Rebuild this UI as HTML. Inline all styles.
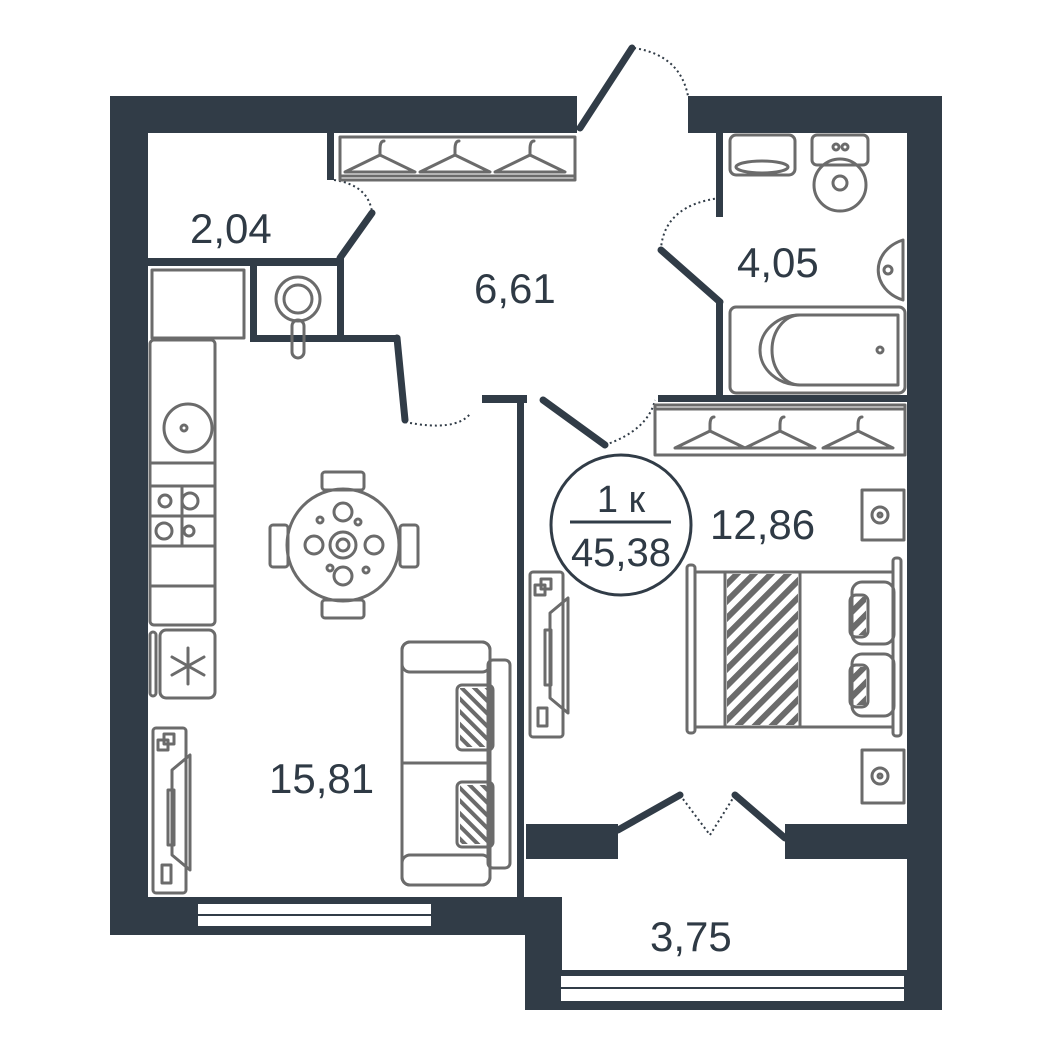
<!DOCTYPE html>
<html><head><meta charset="utf-8"><style>
html,body{margin:0;padding:0;background:#fff;}
svg{display:block}
text{font-family:"Liberation Sans",sans-serif;fill:#2f3a45;}
</style></head><body>
<svg width="1053" height="1053" viewBox="0 0 1053 1053" xmlns="http://www.w3.org/2000/svg">
<g fill="#313c47">
<rect x="110" y="96" width="467" height="37"/>
<rect x="688" y="96" width="254" height="37"/>
<rect x="110" y="96" width="38" height="839"/>
<rect x="907" y="96" width="35" height="914"/>
<rect x="110" y="897" width="450" height="38"/>
<rect x="525" y="897" width="37" height="113"/>
<rect x="525" y="970" width="417" height="40"/>
<rect x="526" y="824" width="92" height="35"/>
<rect x="785" y="824" width="127" height="35"/>
<rect x="517" y="397" width="7" height="500"/>
<rect x="482" y="395" width="45" height="8"/>
<rect x="327" y="133" width="7" height="47"/>
<rect x="148" y="258" width="192" height="8"/>
<rect x="250" y="258" width="7" height="84"/>
<rect x="337" y="258" width="7" height="84"/>
<rect x="250" y="335" width="147" height="7"/>
<rect x="716" y="133" width="7" height="84"/>
<rect x="716" y="300" width="7" height="100"/>
<rect x="658" y="395" width="252" height="7"/>
</g>
<g fill="#fff" stroke="#313c47" stroke-width="2">
<rect x="197" y="903" width="235" height="12"/><rect x="197" y="915" width="235" height="12"/>
<rect x="560" y="975" width="345" height="13"/><rect x="560" y="988" width="345" height="14"/>
</g>
<g stroke="#313c47" stroke-width="7" stroke-linecap="round" fill="none">
<line x1="580" y1="128" x2="632" y2="48"/>
<line x1="340" y1="258" x2="372" y2="213"/>
<line x1="397" y1="338" x2="405" y2="420"/>
<line x1="661" y1="250" x2="720" y2="302"/>
<line x1="543" y1="400" x2="605" y2="445"/>
<line x1="618" y1="830" x2="680" y2="795"/>
<line x1="735" y1="795" x2="785" y2="838"/>
</g>
<g stroke="#313c47" stroke-width="2" stroke-dasharray="2 3" fill="none">
<path d="M634 48 Q680 55 688 96"/>
<path d="M334 180 Q368 185 372 212"/>
<path d="M405 422 Q455 432 470 414"/>
<path d="M720 198 Q665 205 661 248"/>
<path d="M605 445 Q648 430 655 400"/>
<path d="M680 795 L710 835 L735 795"/>
</g>
<g stroke="#6b6b6b" stroke-width="3" fill="none" stroke-linecap="round" stroke-linejoin="round">
<rect x="340" y="137" width="235" height="43"/>
<line x1="340" y1="176" x2="575" y2="176"/>
<g id="h"><path d="M345 172 L380 155 L415 172 Z"/><path d="M380 155 v-6 q0 -8 4 -8"/></g>
<use href="#h" x="75"/><use href="#h" x="150"/>
<rect x="655" y="405" width="250" height="50"/>
<line x1="655" y1="409" x2="905" y2="409"/>
<use href="#h" x="330" y="276"/><use href="#h" x="400" y="276"/><use href="#h" x="478" y="276"/>
<rect x="730" y="135" width="65" height="40" rx="6"/>
<ellipse cx="762" cy="167" rx="26" ry="6"/>
<rect x="812" y="135" width="56" height="30" rx="5"/>
<circle cx="836" cy="147" r="3"/><circle cx="845" cy="147" r="3"/>
<ellipse cx="840" cy="185" rx="26" ry="26"/>
<circle cx="840" cy="183" r="7"/>
<path d="M903 240 A38 32 0 0 0 903 300 Z"/>
<circle cx="888" cy="270" r="4"/>
<rect x="730" y="307" width="175" height="86" rx="6"/>
<path d="M800 315 H898 V385 H800 A40 35 0 0 1 800 315 Z"/>
<path d="M800 315 A28 35 0 0 0 800 385"/>
<circle cx="880" cy="350" r="3"/>
<rect x="152" y="270" width="92" height="68"/>
<rect x="150" y="340" width="65" height="285" rx="4"/>
<circle cx="188" cy="428" r="24"/><circle cx="184" cy="428" r="3"/>
<line x1="150" y1="463" x2="215" y2="463"/>
<line x1="150" y1="586" x2="215" y2="586"/>
<rect x="150" y="486" width="65" height="60"/>
<line x1="182" y1="486" x2="182" y2="546"/><line x1="150" y1="516" x2="215" y2="516"/>
<circle cx="165" cy="501" r="6"/><circle cx="190" cy="501" r="8"/>
<circle cx="164" cy="531" r="8"/><circle cx="189" cy="531" r="5"/>
<rect x="160" y="630" width="55" height="68" rx="6"/>
<rect x="150" y="632" width="6" height="64" rx="3"/>
<path d="M188 648 v36 M172 657 l32 18 M172 675 l32 -18"/>
<circle cx="298" cy="299" r="22"/><circle cx="298" cy="299" r="14"/>
<rect x="292" y="320" width="12" height="38" rx="6"/>
<circle cx="343" cy="545" r="56"/>
<rect x="322" y="472" width="42" height="18" rx="3"/>
<rect x="322" y="600" width="42" height="18" rx="3"/>
<rect x="270" y="525" width="18" height="42" rx="3"/>
<rect x="400" y="525" width="18" height="42" rx="3"/>
<circle cx="343" cy="545" r="13"/><circle cx="343" cy="545" r="6"/>
<circle cx="343" cy="512" r="9"/><circle cx="343" cy="576" r="9"/>
<circle cx="314" cy="545" r="9"/><circle cx="374" cy="545" r="9"/>
<circle cx="320" cy="520" r="3"/><circle cx="366" cy="570" r="3"/><circle cx="330" cy="568" r="3"/><circle cx="358" cy="522" r="3"/>
<rect x="402" y="642" width="88" height="243" rx="8"/>
<rect x="402" y="642" width="88" height="30" rx="8"/>
<rect x="402" y="855" width="88" height="30" rx="8"/>
<rect x="488" y="660" width="22" height="208" rx="5"/>
<line x1="402" y1="763" x2="490" y2="763"/>
<rect x="457" y="685" width="36" height="65" rx="5"/>
<rect x="457" y="782" width="36" height="65" rx="5"/>
<rect x="153" y="728" width="33" height="165" rx="3"/>
<path d="M172 770 L190 755 V870 L172 855 Z"/>
<rect x="168" y="790" width="6" height="55"/>
<rect x="158" y="740" width="10" height="10"/><rect x="164" y="734" width="10" height="10"/>
<rect x="162" y="865" width="9" height="18"/>
<rect x="530" y="572" width="33" height="165" rx="3"/>
<path d="M550 613 L568 598 V713 L550 698 Z"/>
<rect x="545" y="630" width="6" height="55"/>
<rect x="535" y="585" width="10" height="10"/><rect x="541" y="579" width="10" height="10"/>
<rect x="538" y="708" width="9" height="18"/>
<rect x="687" y="565" width="8" height="168" rx="3"/>
<rect x="893" y="558" width="8" height="178" rx="3"/>
<rect x="695" y="572" width="198" height="155"/>
<line x1="725" y1="572" x2="725" y2="727"/><line x1="800" y1="572" x2="800" y2="727"/>
<rect x="852" y="582" width="42" height="62" rx="10"/>
<rect x="852" y="654" width="42" height="62" rx="10"/>
<rect x="850" y="595" width="18" height="42" rx="6"/>
<rect x="850" y="665" width="18" height="42" rx="6"/>
<rect x="862" y="490" width="42" height="50"/><circle cx="880" cy="515" r="8"/><circle cx="880" cy="515" r="2"/>
<rect x="862" y="750" width="42" height="53"/><circle cx="880" cy="776" r="8"/><circle cx="880" cy="776" r="2"/>
</g>
<defs><pattern id="hp" width="12" height="12" patternUnits="userSpaceOnUse" patternTransform="rotate(45)"><rect width="6" height="12" fill="#6b6b6b"/></pattern>
<pattern id="hp2" width="9" height="9" patternUnits="userSpaceOnUse" patternTransform="rotate(-45)"><rect width="4" height="9" fill="#6b6b6b"/></pattern></defs>
<rect x="727" y="574" width="71" height="151" fill="url(#hp)"/>
<rect x="460" y="688" width="30" height="59" fill="url(#hp2)"/>
<rect x="460" y="785" width="30" height="59" fill="url(#hp2)"/>
<rect x="852" y="597" width="14" height="38" fill="url(#hp)"/>
<rect x="852" y="667" width="14" height="38" fill="url(#hp)"/>
<g font-size="42">
<text x="190" y="243">2,04</text>
<text x="474" y="303">6,61</text>
<text x="737" y="277">4,05</text>
<text x="269" y="793">15,81</text>
<text x="710" y="539">12,86</text>
<text x="650" y="951">3,75</text>
</g>
<circle cx="621" cy="525" r="70" fill="none" stroke="#313c47" stroke-width="3"/>
<text x="621" y="512" font-size="38" text-anchor="middle">1 к</text>
<line x1="570" y1="522" x2="671" y2="522" stroke="#313c47" stroke-width="3"/>
<text x="621" y="566" font-size="40" text-anchor="middle">45,38</text>
</svg>
</body></html>
